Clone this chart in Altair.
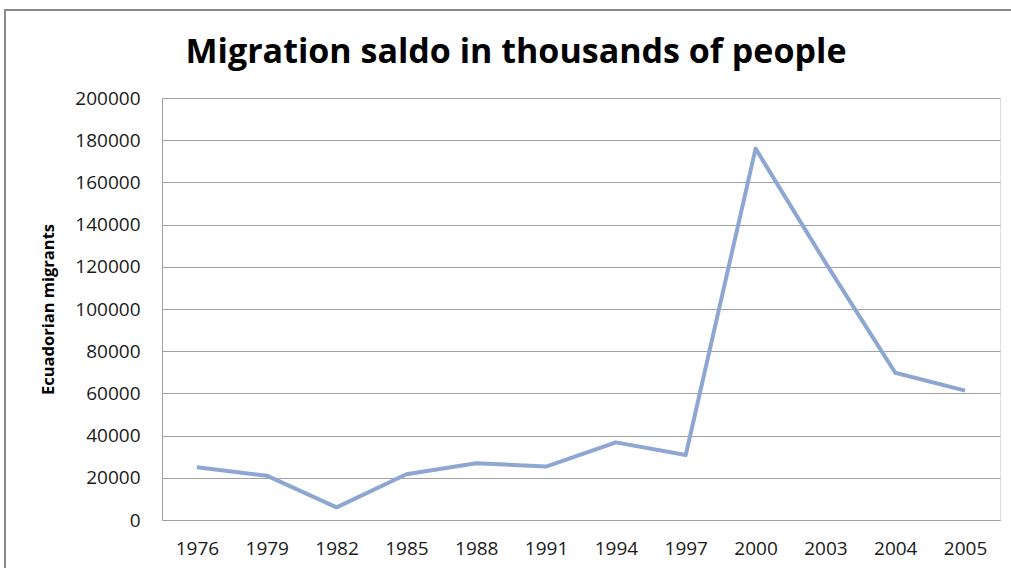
import altair as alt
import pandas as pd

years = ["1976", "1979", "1982", "1985", "1988", "1991", "1994", "1997", "2000", "2003", "2004", "2005"]
migrants = [25000, 21000, 6000, 21700, 26900, 25300, 36800, 30800, 176000, 122000, 69800, 61300]
y_ticks = [0, 20000, 40000, 60000, 80000, 100000, 120000, 140000, 160000, 180000, 200000]
title_text = ["Migration saldo in thousands of people"]

df = pd.DataFrame({"year": years, "migrants": migrants})

FONT = "Open Sans"

line = alt.Chart(df).mark_line(color="#8DA6D2", strokeWidth=4, strokeJoin="round").encode(
    x=alt.X(
        "year:N",
        sort=None,
        scale=alt.Scale(type="point", padding=0.5),
        axis=alt.Axis(
            title=None, labelAngle=0, ticks=False, grid=False,
            domain=True, domainColor="#a0a0a0", domainWidth=1,
            labelFont=FONT, labelFontSize=19, labelColor="#1a1a1a",
            labelPadding=28, labelBaseline="middle",
        ),
    ),
    y=alt.Y(
        "migrants:Q",
        scale=alt.Scale(domain=[0, 200000], nice=False, zero=True),
        axis=alt.Axis(
            values=y_ticks, format="d", ticks=False,
            grid=True, gridColor="#a0a0a0", gridWidth=1,
            domain=True, domainColor="#a0a0a0", domainWidth=1,
            labelFont=FONT, labelFontSize=19, labelColor="#1a1a1a",
            labelPadding=22, labelBaseline="middle",
            title="Ecuadorian migrants", titleFont=FONT, titleFontSize=16.5,
            titleFontWeight="bold", titleColor="black", titleAngle=270,
            titleX=-114, titleY=211, titleAlign="center", titleBaseline="middle",
        ),
    ),
)

border = alt.Chart(pd.DataFrame({"a": [0]})).mark_rect(
    fill=None, stroke="#888888", strokeWidth=2
).encode(
    x=alt.value(-157), x2=alt.value(870), y=alt.value(-88), y2=alt.value(490)
)

title = alt.Chart(pd.DataFrame({"t": title_text})).mark_text(
    font=FONT, fontSize=34, fontWeight="bold", color="black",
    align="center", baseline="alphabetic",
).encode(
    text="t:N", x=alt.value(354), y=alt.value(-35)
)

chart = alt.layer(border, line, title).properties(
    width=838,
    height=422,
    padding={"left": 162, "top": 98, "right": 11, "bottom": 48},
    autosize=alt.AutoSizeParams(type="none"),
).configure_view(stroke=None).configure(background="white")

chart.save("out.html", embed_options={"renderer": "svg", "actions": False})
